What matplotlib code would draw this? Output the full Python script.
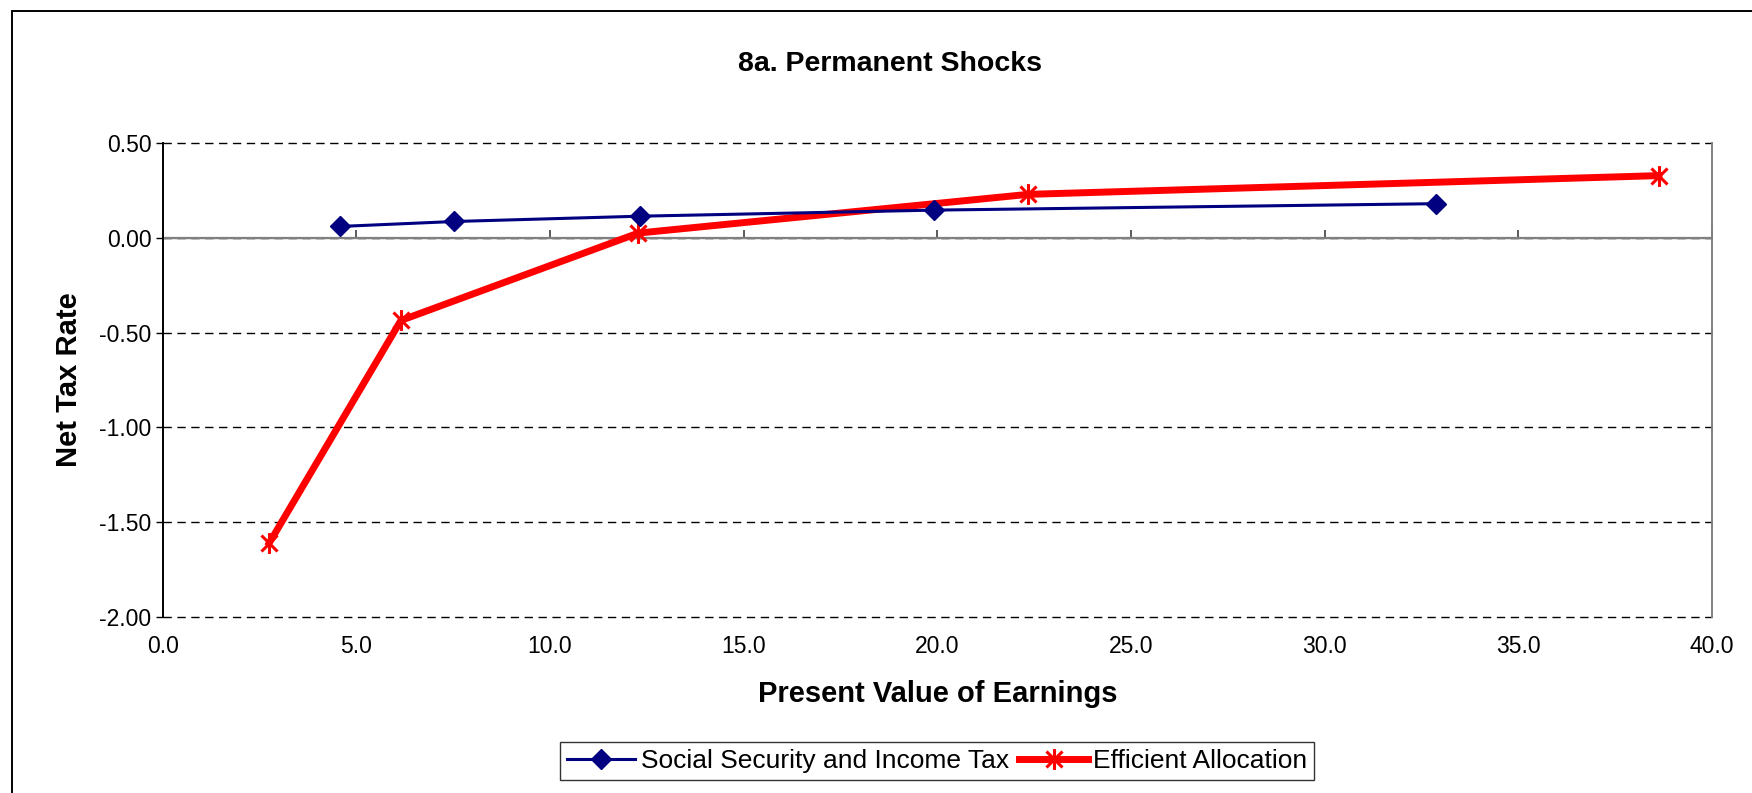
import matplotlib
matplotlib.use("Agg")
from matplotlib import pyplot as plt
from matplotlib.path import Path
from matplotlib.patches import Rectangle

# data
ssX = [4.59, 7.53, 12.33, 19.92, 32.88]
ssY = [0.060, 0.086, 0.114, 0.146, 0.180]
effX = [2.75, 6.15, 12.28, 22.34, 38.63]
effY = [-1.61, -0.436, 0.025, 0.229, 0.328]

xTicks = [0, 5, 10, 15, 20, 25, 30, 35, 40]
yTicks = [-2.0, -1.5, -1.0, -0.5, 0.0, 0.5]

plt.rcParams['font.family'] = ['Liberation Sans', 'DejaVu Sans']

W, H = 1752, 793
fig = plt.figure(figsize=(W / 100, H / 100), dpi=100)

# chart area frame (only left/top edges visible in the crop)
fig.patches.append(Rectangle((12 / W, -0.1), 2.0, 1 - 11 / H + 0.1, transform=fig.transFigure,
                             fill=False, edgecolor='black', linewidth=1.4))

ax = fig.add_axes([162.7 / W, 1 - 617 / H, (1712 - 162.7) / W, (617 - 143) / H])

# asterisk marker: X plus vertical bar
star = Path([(-1, -1), (1, 1), (-1, 1), (1, -1), (0, -1.3), (0, 1.3)],
            [Path.MOVETO, Path.LINETO, Path.MOVETO, Path.LINETO, Path.MOVETO, Path.LINETO])

for y in yTicks:
    ax.axhline(y, color='black', linewidth=1.0, linestyle=(0, (6, 4)), zorder=1, clip_on=False)
ax.axhline(0, color='#808080', linewidth=1.6, zorder=2)

ax.plot(ssX, ssY, color='#000080', linewidth=2.2, marker='D', markersize=10,
        markerfacecolor='#000080', markeredgecolor='#000080', zorder=4,
        label='Social Security and Income Tax')
ax.plot(effX, effY, color='#FF0000', linewidth=5, marker=star, markersize=15,
        markerfacecolor='none', markeredgecolor='#FF0000', markeredgewidth=2.2,
        zorder=3, label='Efficient Allocation')

ax.set_xlim(0, 40)
ax.set_ylim(-2, 0.5)
ax.set_xticks(xTicks)
ax.set_xticklabels(['%.1f' % v for v in xTicks])
ax.set_yticks(yTicks)
ax.set_yticklabels(['%.2f' % v for v in yTicks])
ax.tick_params(axis='x', length=0, pad=13, labelsize=16.5)
ax.tick_params(axis='y', length=5, width=1, direction='out', pad=3, labelsize=16.5)

for s in ['top', 'bottom']:
    ax.spines[s].set_visible(False)
ax.spines['left'].set_color('black')
ax.spines['left'].set_linewidth(1.4)
ax.spines['right'].set_color('#808080')
ax.spines['right'].set_linewidth(1.4)

# tick marks hanging from the zero line
sec = ax.secondary_xaxis(0.8)
sec.set_xticks(xTicks[1:])
sec.set_xticklabels([])
sec.tick_params(length=6, width=1.2, direction='out', color='#404040')
sec.spines['bottom'].set_visible(False)

ax.set_xlabel('Present Value of Earnings', fontsize=21, fontweight='bold', labelpad=16)
ax.set_ylabel('Net Tax Rate', fontsize=21, fontweight='bold', labelpad=12)

fig.text(890 / W, 1 - 64 / H, '8a. Permanent Shocks', fontsize=20.5, fontweight='bold',
         ha='center', va='center')

leg = fig.legend(loc='center', bbox_to_anchor=(937 / W, 1 - 761 / H), ncol=2, fontsize=19,
                 frameon=True, fancybox=False, edgecolor='black', handlelength=2.6,
                 handletextpad=0.2, columnspacing=0.4, borderpad=0.25)
leg.get_frame().set_linewidth(1.0)

fig.savefig('out.png', dpi=100)
